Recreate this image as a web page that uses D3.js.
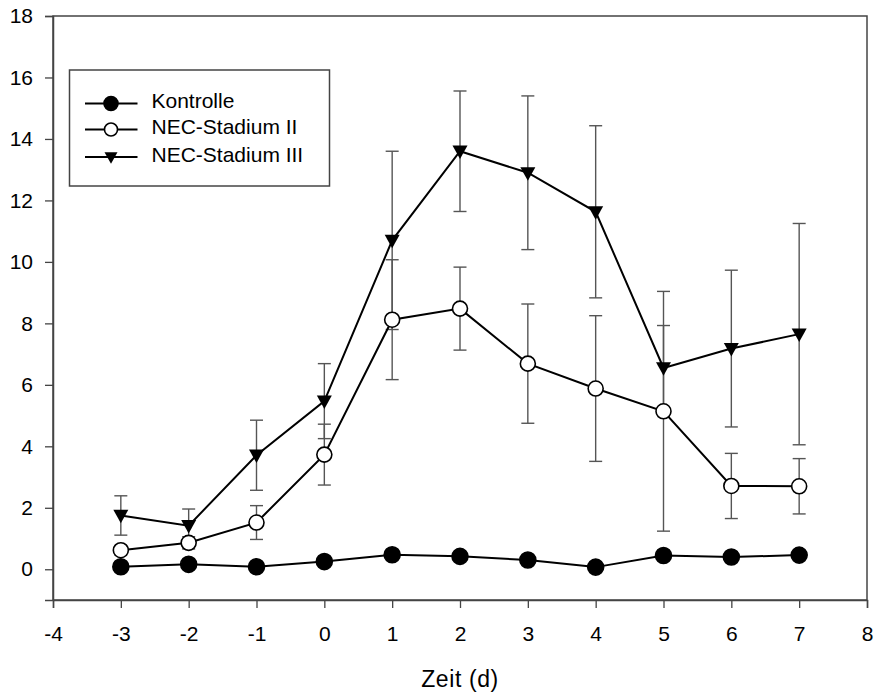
<!DOCTYPE html>
<html>
<head>
<meta charset="utf-8">
<script src="https://cdn.jsdelivr.net/npm/d3@7"></script>
<style>
  body { margin: 0; background: #fff; }
  text { font-family: "Liberation Sans", Arial, sans-serif; fill: #000; }
</style>
</head>
<body>
<svg id="chart" width="874" height="695"></svg>
<script>
// data
const days = [-3, -2, -1, 0, 1, 2, 3, 4, 5, 6, 7];

const kontrolle    = [0.08, 0.16, 0.08, 0.25, 0.47, 0.42, 0.30, 0.07, 0.45, 0.40, 0.46];
const kontrolleErr = [0.05, 0.05, 0.05, 0.08, 0.1, 0.1, 0.08, 0.05, 0.1, 0.1, 0.1];

const stadium2    = [0.62, 0.86, 1.52, 3.73, 8.12, 8.48, 6.69, 5.88, 5.14, 2.71, 2.70];
const stadium2Err = [0.15, 0.2, 0.55, 0.99, 1.95, 1.35, 1.94, 2.37, 3.9, 1.06, 0.9];

const stadium3    = [1.75, 1.42, 3.71, 5.47, 10.7, 13.6, 12.9, 11.63, 6.55, 7.18, 7.65];
const stadium3Err = [0.64, 0.54, 1.14, 1.22, 2.9, 1.96, 2.5, 2.8, 1.38, 2.55, 3.6];

const xTicks = [-4, -3, -2, -1, 0, 1, 2, 3, 4, 5, 6, 7, 8];
const yTicks = [0, 2, 4, 6, 8, 10, 12, 14, 16, 18];

const series = [
  { name: "Kontrolle", values: kontrolle, err: kontrolleErr, marker: "filled" },
  { name: "NEC-Stadium II", values: stadium2, err: stadium2Err, marker: "open" },
  { name: "NEC-Stadium III", values: stadium3, err: stadium3Err, marker: "triangle" }
];

const margin = {top: 16, right: 7, bottom: 95, left: 53};
const width = 874 - margin.left - margin.right,
      height = 695 - margin.top - margin.bottom;

const svg = d3.select('#chart');
const g = svg.append('g').attr('transform', `translate(${margin.left},${margin.top})`);

const x = d3.scaleLinear().domain([-4, 8]).range([0, width]);
const y = d3.scaleLinear().domain([-1, 18]).range([height, 0]);

const axisColor = '#444';

// frame
g.append('rect')
  .attr('width', width).attr('height', height)
  .attr('fill', 'none').attr('stroke', axisColor).attr('stroke-width', 1.5);

const xAxis = g.append('g')
  .attr('transform', `translate(0,${height})`)
  .call(d3.axisBottom(x).tickValues(xTicks).tickSize(8).tickPadding(18).tickFormat(d => String(d)));
const yAxis = g.append('g')
  .call(d3.axisLeft(y).tickValues(yTicks).tickSize(8).tickPadding(12).tickFormat(d => String(d)));

[xAxis, yAxis].forEach(a => {
  a.select('.domain').attr('stroke', axisColor).attr('stroke-width', 1.5);
  a.selectAll('.tick line').attr('stroke', axisColor).attr('stroke-width', 1.3);
  a.selectAll('.tick text').style('font-size', '21px').attr('fill', '#000')
    .style('font-family', '"Liberation Sans", Arial, sans-serif');
});

g.append('text')
  .attr('x', width / 2).attr('y', height + 87)
  .attr('text-anchor', 'middle')
  .style('font-size', '23px')
  .style('letter-spacing', '0.6px')
  .text('Zeit (d)');

// error bars
const capW = 6.5;
series.forEach(s => {
  const eb = g.append('g').attr('stroke', '#555').attr('stroke-width', 1.4);
  days.forEach((d, i) => {
    const cx = x(d), top = y(s.values[i] + s.err[i]), bot = y(s.values[i] - s.err[i]);
    eb.append('line').attr('x1', cx).attr('x2', cx).attr('y1', top).attr('y2', bot);
    eb.append('line').attr('x1', cx - capW).attr('x2', cx + capW).attr('y1', top).attr('y2', top);
    eb.append('line').attr('x1', cx - capW).attr('x2', cx + capW).attr('y1', bot).attr('y2', bot);
  });
});

const line = d3.line().x(d => x(d[0])).y(d => y(d[1]));
series.forEach(s => {
  g.append('path')
    .datum(days.map((d, i) => [d, s.values[i]]))
    .attr('d', line)
    .attr('fill', 'none').attr('stroke', '#000').attr('stroke-width', 2);
});

const triangle = r => `M${-r},${-r * 0.75}L${r},${-r * 0.75}L0,${r * 1.05}Z`;

function drawMarker(sel, type, r) {
  if (type === 'triangle') {
    sel.append('path').attr('d', triangle(r)).attr('fill', '#000');
  } else {
    sel.append('circle').attr('r', type === 'filled' ? r + 0.5 : r)
      .attr('fill', type === 'filled' ? '#000' : '#fff')
      .attr('stroke', '#000').attr('stroke-width', 1.6);
  }
}

series.forEach(s => {
  days.forEach((d, i) => {
    const m = g.append('g').attr('transform', `translate(${x(d)},${y(s.values[i])})`);
    drawMarker(m, s.marker, 7.5);
  });
});

// legend
const legend = svg.append('g').attr('transform', 'translate(69.5,70)');
legend.append('rect').attr('width', 260).attr('height', 116)
  .attr('fill', '#fff').attr('stroke', axisColor).attr('stroke-width', 1.5);
const legendY = [33.5, 59.5, 87];
series.forEach((s, i) => {
  const row = legend.append('g').attr('transform', `translate(0,${legendY[i]})`);
  row.append('line').attr('x1', 15.5).attr('x2', 68).attr('y1', 0).attr('y2', 0)
    .attr('stroke', '#000').attr('stroke-width', 2);
  const m = row.append('g').attr('transform', 'translate(41.5,0)');
  drawMarker(m, s.marker, 6.5);
  row.append('text').attr('x', 82).attr('y', 4.8).style('font-size', '21px').text(s.name);
});
</script>
</body>
</html>
